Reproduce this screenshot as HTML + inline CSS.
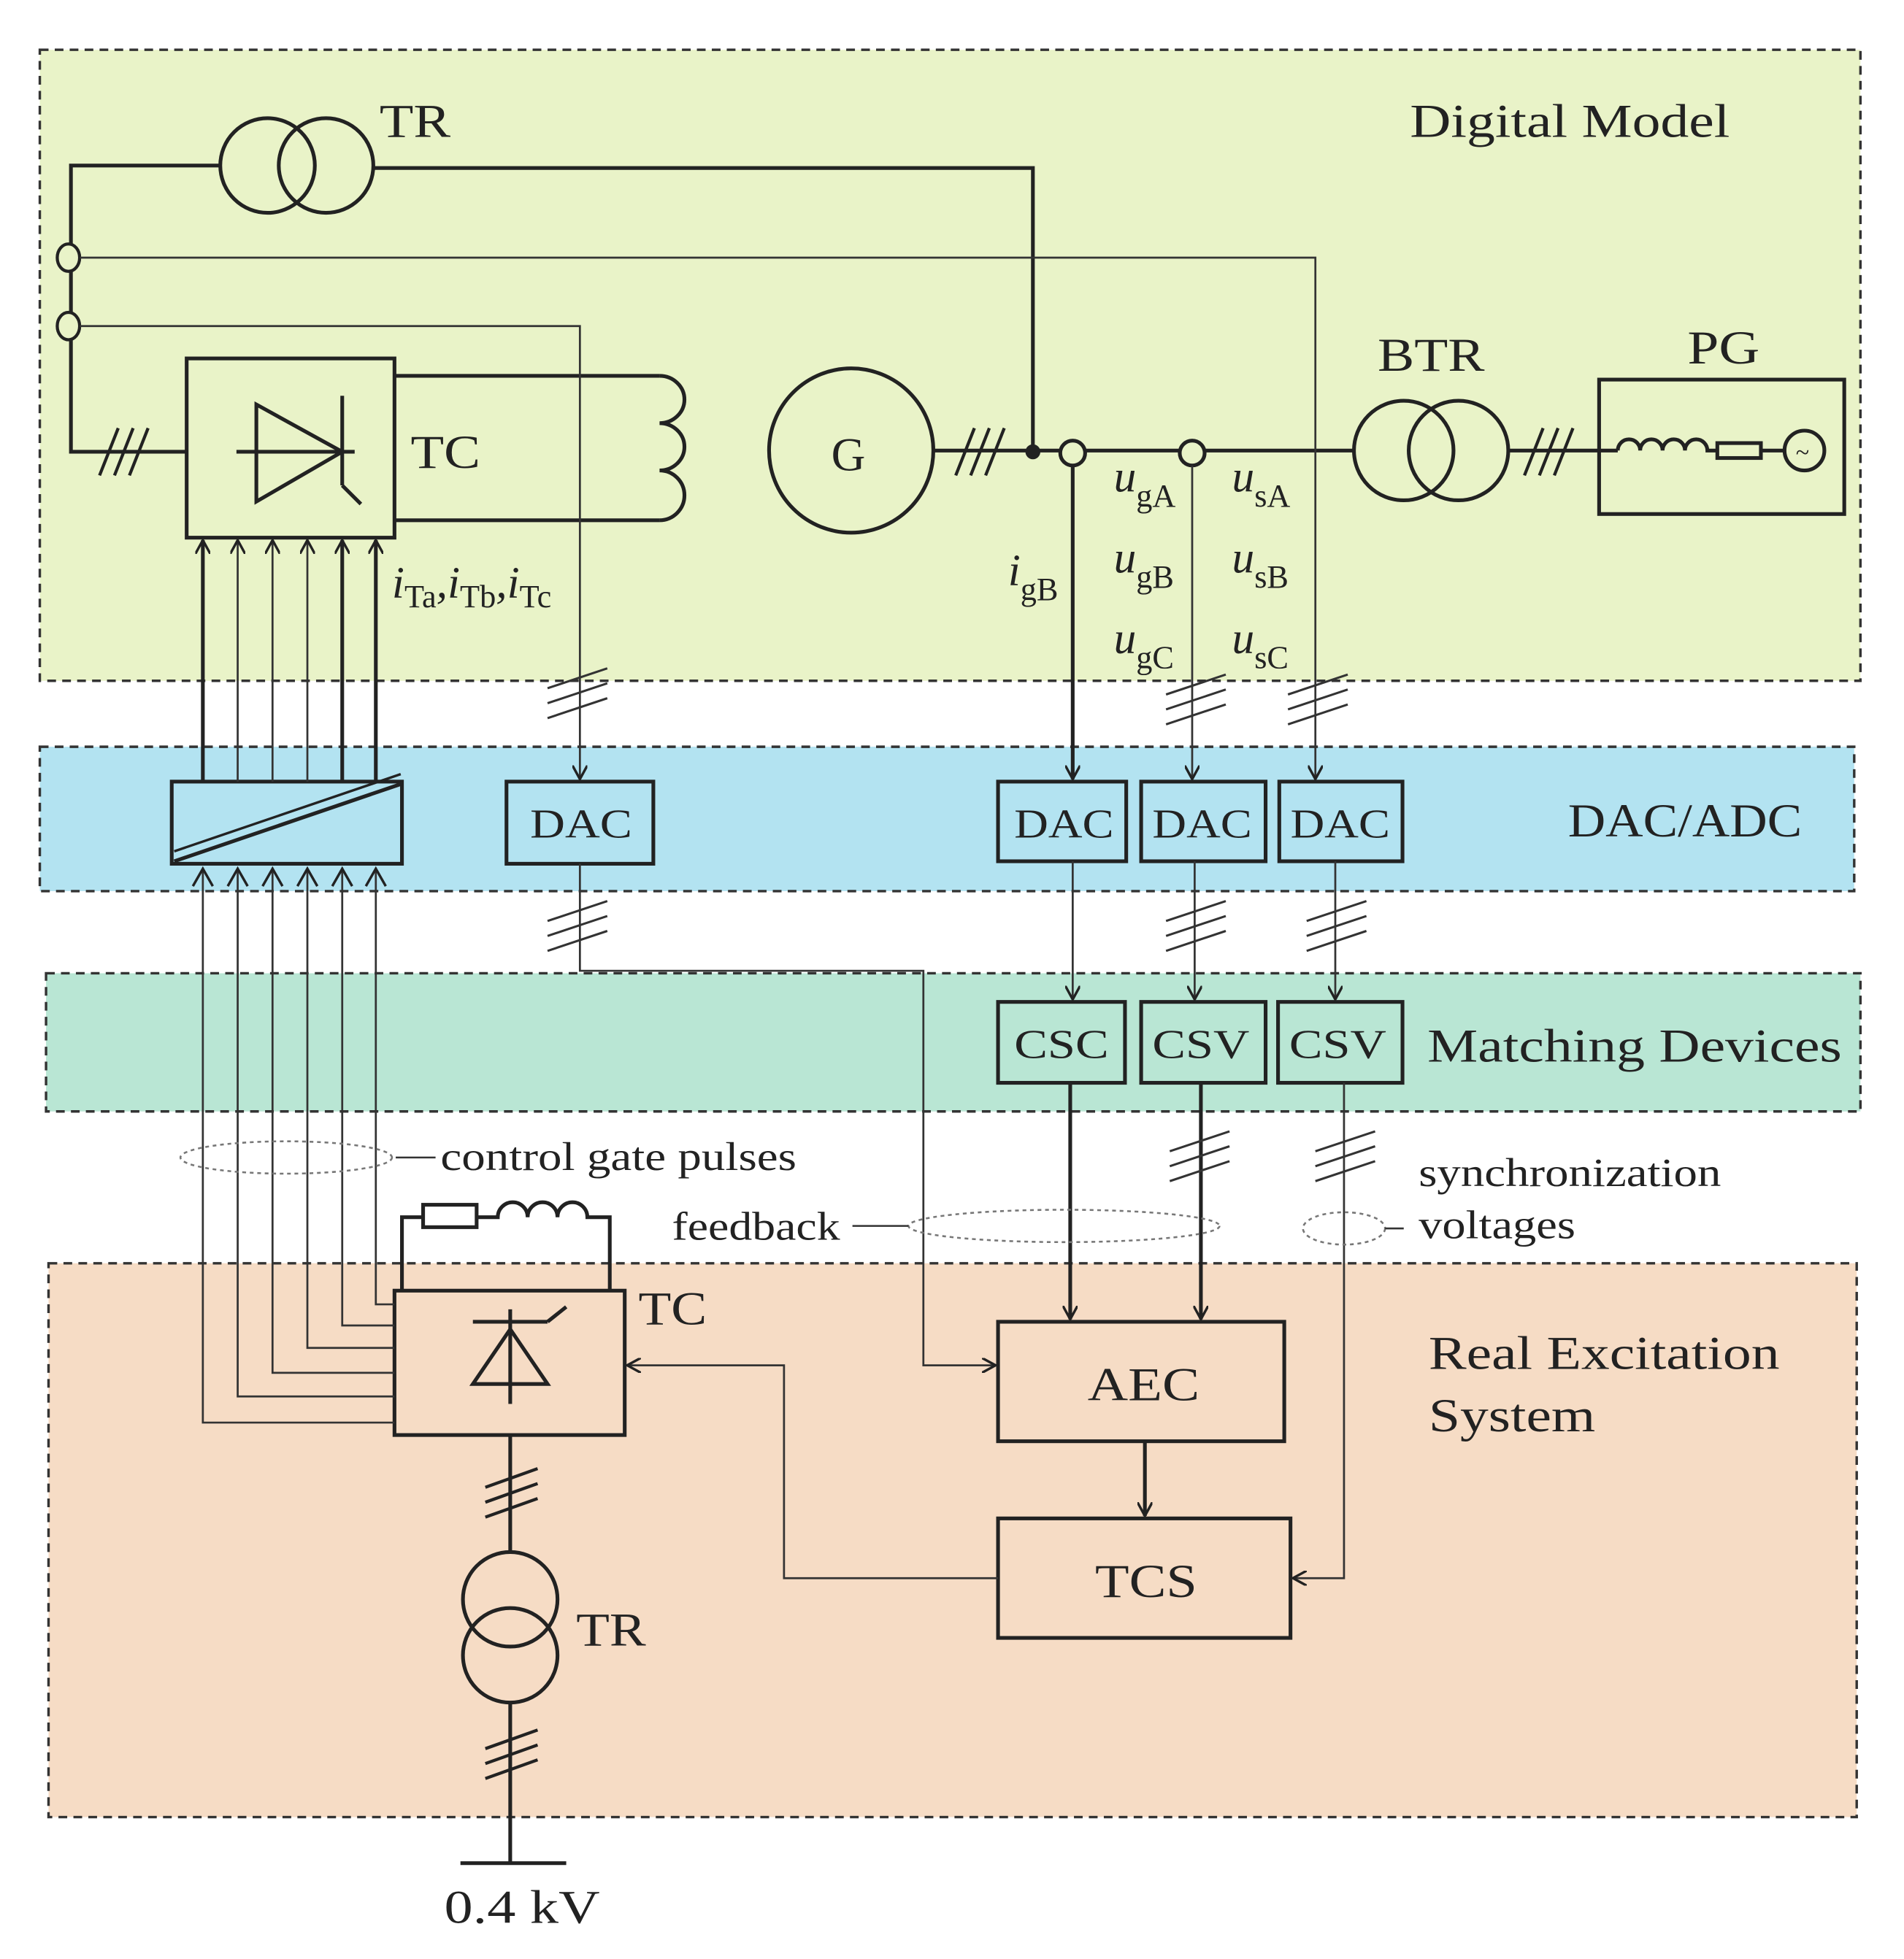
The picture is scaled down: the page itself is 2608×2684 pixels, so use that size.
<!DOCTYPE html>
<html><head><meta charset="utf-8"><style>
html,body{margin:0;padding:0;background:#fff}
svg{display:block}
text{font-family:"Liberation Serif",serif;fill:#222}
</style></head><body>
<svg width="2608" height="2684" viewBox="0 0 1530 1574" preserveAspectRatio="none" xmlns="http://www.w3.org/2000/svg">
<defs>
<marker id="a" viewBox="0 0 12 12" refX="11" refY="6" markerWidth="12" markerHeight="12" markerUnits="userSpaceOnUse" orient="auto"><path d="M0,0 L11,6 L0,12" fill="none" stroke="#222" stroke-width="2"/></marker>
</defs>
<g stroke="#333" stroke-width="2" stroke-dasharray="7,5">
<rect x="32" y="40" width="1463" height="507" fill="#e9f3c8"/>
<rect x="32" y="600" width="1458" height="116" fill="#b3e3f1"/>
<rect x="37" y="782" width="1458" height="111" fill="#b9e6d4"/>
<rect x="39" y="1015" width="1453" height="445" fill="#f6dcc5"/>
</g>
<g fill="none" stroke="#222" stroke-width="3">
<circle cx="215" cy="133" r="38"/><circle cx="262" cy="133" r="38"/>
<polyline points="177,133 57,133 57,363 150,363"/>
<polyline points="300,135 830,135 830,363"/>
<rect x="150" y="288" width="167" height="144"/>
<line x1="190" y1="363" x2="285" y2="363"/>
<polygon points="206,325 206,403 275,363"/>
<line x1="275" y1="318" x2="275" y2="390"/>
<line x1="275" y1="390" x2="290" y2="405"/>
<polyline points="317,302 530,302"/>
<polyline points="317,418 530,418"/>
<path d="M530,302 a20,19 0 0 1 0,38 a20,19 0 0 1 0,38 a20,20 0 0 1 0,40"/>
<circle cx="684" cy="362" r="66"/>
<line x1="750" y1="362" x2="1088" y2="362"/>
<circle cx="1128" cy="362" r="40"/><circle cx="1172" cy="362" r="40"/>
<line x1="1212" y1="362" x2="1300" y2="362"/>
<rect x="1285" y="305" width="197" height="108"/>
<path d="M1300,362 a9,9 0 0 1 18,0 a9,9 0 0 1 18,0 a9,9 0 0 1 18,0 a9,9 0 0 1 18,0 L1380,362"/>
<rect x="1380" y="356" width="35" height="12"/>
<line x1="1415" y1="362" x2="1434" y2="362"/>
<circle cx="1450" cy="362" r="16"/>
<rect x="138" y="628" width="185" height="66"/>
<rect x="407" y="628" width="118" height="66"/>
<rect x="802" y="628" width="103" height="64"/>
<rect x="917" y="628" width="100" height="64"/>
<rect x="1028" y="628" width="99" height="64"/>
<rect x="802" y="805" width="102" height="65"/>
<rect x="917" y="805" width="100" height="65"/>
<rect x="1027" y="805" width="100" height="65"/>
<rect x="802" y="1062" width="230" height="96"/>
<rect x="802" y="1220" width="235" height="96"/>
<rect x="317" y="1037" width="185" height="116"/>
<line x1="380" y1="1062" x2="440" y2="1062"/>
<polyline points="440,1062 455,1050"/>
<polygon points="410,1068 380,1112 440,1112"/>
<line x1="410" y1="1052" x2="410" y2="1128"/>
<polyline points="323,1037 323,978 340,978"/>
<rect x="340" y="968" width="43" height="18"/>
<path d="M383,978 L400,978 a12,12 0 0 1 24,0 a12,12 0 0 1 24,0 a12,12 0 0 1 24,0 L490,978 L490,1037"/>
<line x1="410" y1="1153" x2="410" y2="1247"/>
<circle cx="410" cy="1285" r="38"/><circle cx="410" cy="1330" r="38"/>
<line x1="410" y1="1368" x2="410" y2="1497"/>
<line x1="370" y1="1497" x2="455" y2="1497"/>
</g>
<g fill="none" stroke="#222" stroke-width="3">
<line x1="140" y1="692" x2="322" y2="630"/>
<line x1="140" y1="684" x2="322" y2="622" stroke-width="2"/>
</g>
<circle cx="830" cy="363" r="6" fill="#222"/>
<g fill="#e9f3c8" stroke="#222" stroke-width="3">
<circle cx="862" cy="364" r="10"/><circle cx="958" cy="364" r="10"/>
</g>
<g fill="#e9f3c8" stroke="#222" stroke-width="2.5">
<ellipse cx="55" cy="207" rx="9" ry="11"/><ellipse cx="55" cy="262" rx="9" ry="11"/>
</g>
<g fill="none" stroke="#333" stroke-width="1.6">
<polyline points="64,207 1057,207 1057,626" marker-end="url(#a)"/>
<polyline points="64,262 466,262 466,626" marker-end="url(#a)"/>
<polyline points="958,374 958,626" marker-end="url(#a)"/>
<line x1="191" y1="628" x2="191" y2="434" marker-end="url(#a)"/>
<line x1="219" y1="628" x2="219" y2="434" marker-end="url(#a)"/>
<line x1="247" y1="628" x2="247" y2="434" marker-end="url(#a)"/>
<polyline points="466,694 466,780 742,780 742,1097 800,1097" marker-end="url(#a)"/>
<polyline points="862,692 862,803" marker-end="url(#a)"/>
<polyline points="960,692 960,803" marker-end="url(#a)"/>
<polyline points="1073,692 1073,803" marker-end="url(#a)"/>
<polyline points="1080,870 1080,1268 1039,1268" marker-end="url(#a)"/>
<polyline points="802,1268 630,1268 630,1097 504,1097" marker-end="url(#a)"/>
<polyline points="163,698 163,1143 317,1143"/>
<polyline points="191,698 191,1122 317,1122"/>
<polyline points="219,698 219,1103 317,1103"/>
<polyline points="247,698 247,1083 317,1083"/>
<polyline points="275,698 275,1065 317,1065"/>
<polyline points="302,698 302,1048 317,1048"/>
</g>
<g fill="none" stroke="#222" stroke-width="3">
<line x1="163" y1="628" x2="163" y2="434" marker-end="url(#a)"/>
<line x1="275" y1="628" x2="275" y2="434" marker-end="url(#a)"/>
<line x1="302" y1="628" x2="302" y2="434" marker-end="url(#a)"/>
<polyline points="862,374 862,626" marker-end="url(#a)"/>
<polyline points="860,870 860,1060" marker-end="url(#a)"/>
<polyline points="965,870 965,1060" marker-end="url(#a)"/>
<polyline points="920,1158 920,1218" marker-end="url(#a)"/>
</g>
<g fill="none" stroke="#222" stroke-width="2">
<path d="M155,712 L163,698 L171,712 M183,712 L191,698 L199,712 M211,712 L219,698 L227,712 M239,712 L247,698 L255,712 M267,712 L275,698 L283,712 M294,712 L302,698 L310,712"/>
</g>
<g stroke="#222" stroke-width="2.5">
<path d="M80,382 L95,344 M92,382 L107,344 M104,382 L119,344"/>
<path d="M768,382 L783,344 M780,382 L795,344 M792,382 L807,344"/>
<path d="M1225,382 L1240,344 M1237,382 L1252,344 M1249,382 L1264,344"/>
<path d="M390,1195 L432,1180 M390,1207 L432,1192 M390,1219 L432,1204"/>
<path d="M390,1405 L432,1390 M390,1417 L432,1402 M390,1429 L432,1414"/>
</g>
<g stroke="#333" stroke-width="1.8">
<path d="M440,553 L488,537 M440,565 L488,549 M440,577 L488,561"/>
<path d="M440,740 L488,724 M440,752 L488,736 M440,764 L488,748"/>
<path d="M937,558 L985,542 M937,570 L985,554 M937,582 L985,566"/>
<path d="M937,740 L985,724 M937,752 L985,736 M937,764 L985,748"/>
<path d="M1035,558 L1083,542 M1035,570 L1083,554 M1035,582 L1083,566"/>
<path d="M1050,740 L1098,724 M1050,752 L1098,736 M1050,764 L1098,748"/>
<path d="M940,925 L988,909 M940,937 L988,921 M940,949 L988,933"/>
<path d="M1057,925 L1105,909 M1057,937 L1105,921 M1057,949 L1105,933"/>
</g>
<g fill="none" stroke="#777" stroke-width="1.5" stroke-dasharray="3,3">
<ellipse cx="230" cy="930" rx="85" ry="13"/>
<ellipse cx="855" cy="985" rx="125" ry="13"/>
<ellipse cx="1080" cy="987" rx="33" ry="13"/>
</g>
<g stroke="#333" stroke-width="1.5">
<line x1="318" y1="930" x2="350" y2="930"/>
<line x1="685" y1="985" x2="730" y2="985"/>
<line x1="1113" y1="987" x2="1128" y2="987"/>
</g>
<g font-size="38" lengthAdjust="spacingAndGlyphs">
<text x="305" y="110" textLength="57" lengthAdjust="spacingAndGlyphs">TR</text>
<text x="1133" y="110" textLength="257" lengthAdjust="spacingAndGlyphs">Digital Model</text>
<text x="330" y="376" textLength="56" lengthAdjust="spacingAndGlyphs">TC</text>
<text x="668" y="378">G</text>
<text x="1107" y="298" textLength="86" lengthAdjust="spacingAndGlyphs">BTR</text>
<text x="1356" y="292" textLength="58" lengthAdjust="spacingAndGlyphs">PG</text>
<text x="1260" y="672" textLength="188" lengthAdjust="spacingAndGlyphs">DAC/ADC</text>
<text x="1147" y="853" textLength="333" lengthAdjust="spacingAndGlyphs">Matching Devices</text>
<text x="874" y="1125" textLength="90" lengthAdjust="spacingAndGlyphs">AEC</text>
<text x="880" y="1283" textLength="82" lengthAdjust="spacingAndGlyphs">TCS</text>
<text x="1148" y="1100" textLength="282" lengthAdjust="spacingAndGlyphs">Real Excitation</text>
<text x="1148" y="1150" textLength="134" lengthAdjust="spacingAndGlyphs">System</text>
<text x="513" y="1064" textLength="55" lengthAdjust="spacingAndGlyphs">TC</text>
<text x="463" y="1322" textLength="56" lengthAdjust="spacingAndGlyphs">TR</text>
<text x="357" y="1545" textLength="125" lengthAdjust="spacingAndGlyphs">0.4 kV</text>
</g>
<g font-size="33">
<text x="426" y="673" textLength="82" lengthAdjust="spacingAndGlyphs">DAC</text>
<text x="815" y="673" textLength="80" lengthAdjust="spacingAndGlyphs">DAC</text>
<text x="926" y="673" textLength="80" lengthAdjust="spacingAndGlyphs">DAC</text>
<text x="1037" y="673" textLength="80" lengthAdjust="spacingAndGlyphs">DAC</text>
<text x="815" y="850" textLength="76" lengthAdjust="spacingAndGlyphs">CSC</text>
<text x="926" y="850" textLength="78" lengthAdjust="spacingAndGlyphs">CSV</text>
<text x="1036" y="850" textLength="78" lengthAdjust="spacingAndGlyphs">CSV</text>
</g>
<g font-size="32">
<text x="354" y="940" textLength="286" lengthAdjust="spacingAndGlyphs">control gate pulses</text>
<text x="540" y="996" textLength="135" lengthAdjust="spacingAndGlyphs">feedback</text>
<text x="1140" y="953" textLength="243" lengthAdjust="spacingAndGlyphs">synchronization</text>
<text x="1140" y="995" textLength="126" lengthAdjust="spacingAndGlyphs">voltages</text>
</g>
<g font-size="36" font-style="italic">
<text x="315" y="480">i<tspan font-size="26" font-style="normal" dy="8">Ta</tspan><tspan dy="-8">,i</tspan><tspan font-size="26" font-style="normal" dy="8">Tb</tspan><tspan dy="-8">,i</tspan><tspan font-size="26" font-style="normal" dy="8">Tc</tspan></text>
<text x="810" y="470">i<tspan font-size="26" font-style="normal" dy="12">gB</tspan></text>
<text x="895" y="395">u<tspan font-size="26" font-style="normal" dy="12">gA</tspan></text>
<text x="895" y="460">u<tspan font-size="26" font-style="normal" dy="12">gB</tspan></text>
<text x="895" y="525">u<tspan font-size="26" font-style="normal" dy="12">gC</tspan></text>
<text x="990" y="395">u<tspan font-size="26" font-style="normal" dy="12">sA</tspan></text>
<text x="990" y="460">u<tspan font-size="26" font-style="normal" dy="12">sB</tspan></text>
<text x="990" y="525">u<tspan font-size="26" font-style="normal" dy="12">sC</tspan></text>
</g>
<text x="1443" y="370" font-size="20">~</text>
</svg>
</body></html>
